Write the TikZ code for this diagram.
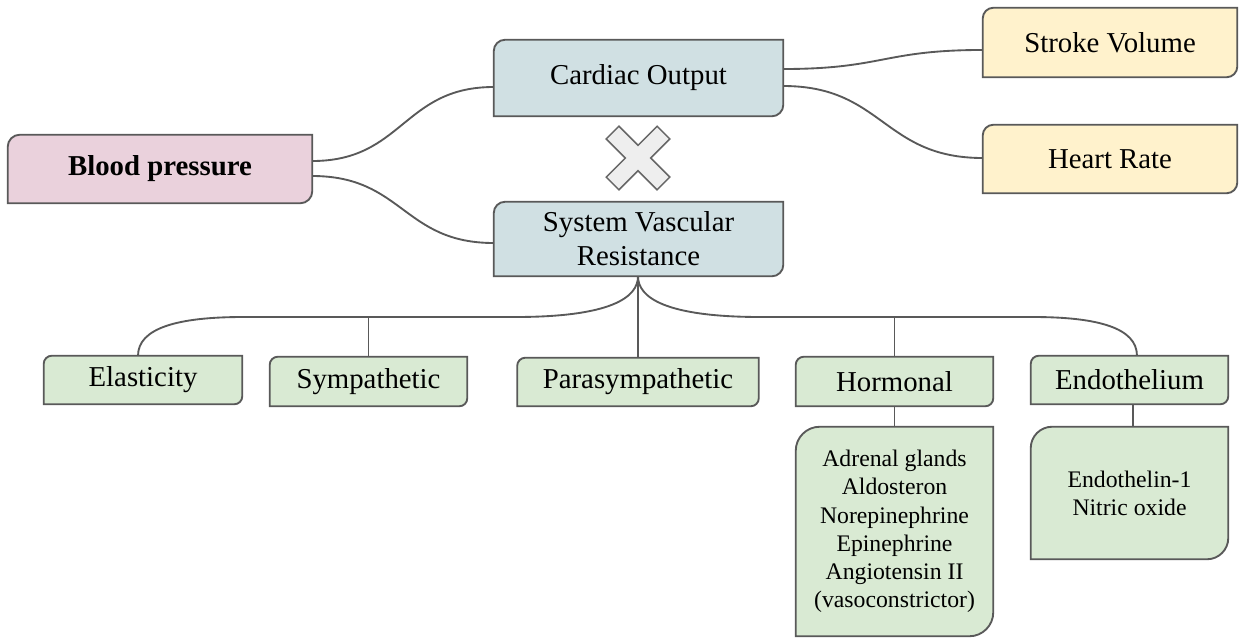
\documentclass[tikz,border=0pt]{standalone}
\usepackage{fontspec}
\setmainfont{Liberation Serif}
\usetikzlibrary{calc}
\pgfdeclarelayer{background}
\pgfsetlayers{background,main}
\definecolor{linegray}{HTML}{595959}
\definecolor{bpfill}{HTML}{EAD1DC}
\definecolor{cofill}{HTML}{D0E0E3}
\definecolor{yfill}{HTML}{FFF2CC}
\definecolor{gfill}{HTML}{D9EAD3}
\definecolor{xfill}{HTML}{EEEEEE}
\definecolor{xline}{HTML}{666666}
\newcommand\bigfont{\fontsize{21.6}{25.5}\selectfont}
\newcommand\smallfont{\fontsize{17.8}{21.2}\selectfont}
\tikzset{
  boxline/.style={draw=linegray, line width=1.4pt},
  conn/.style={draw=linegray, line width=1.4pt},
  lbl/.style={inner sep=0pt, align=center, font=\bigfont},
  smalllbl/.style={inner sep=0pt, align=center, font=\smallfont},
  bx/.style 2 args={minimum width={0.75*#1pt}, minimum height={0.75*#2pt}},
}
% #1 node name, #2 corner radius (pt), #3 fill colour
\newcommand\diagbox[3]{%
  \begin{pgfonlayer}{background}
  \draw[boxline, fill=#3] (#1.south west) -- ([yshift={-#2pt}]#1.north west)
    .. controls ([yshift={-0.448*#2pt}]#1.north west) and ([xshift={0.448*#2pt}]#1.north west) ..
    ([xshift={#2pt}]#1.north west) -- (#1.north east) -- ([yshift={#2pt}]#1.south east)
    .. controls ([yshift={0.448*#2pt}]#1.south east) and ([xshift={-0.448*#2pt}]#1.south east) ..
    ([xshift={-#2pt}]#1.south east) -- cycle;
  \end{pgfonlayer}}
\begin{document}
\begin{tikzpicture}[x=0.75pt, y=-0.75pt]
\useasboundingbox (0,0) rectangle (1244,637);

% nodes
\node[lbl, bx={304}{68}] (bp) at (160,169) {\textbf{Blood pressure}};
\node[lbl, bx={289}{76}] (co) at (638.5,78) {Cardiac Output};
\node[lbl, bx={289}{74}] (svr) at (638.5,239) {System Vascular\\Resistance};
\node[lbl, bx={254}{69}] (sv) at (1110,42.5) {Stroke Volume};
\node[lbl, bx={254}{68}] (hr) at (1110,159) {Heart Rate};
\node[lbl, bx={198}{48}] (elast) at (143,380) {Elasticity};
\node[lbl, bx={197}{49}] (symp) at (368.5,381.5) {Sympathetic};
\node[lbl, bx={241}{48}] (para) at (638,382) {Parasympathetic};
\node[lbl, bx={197}{49}] (horm) at (894.5,381.5) {Hormonal};
\node[lbl, bx={197}{48}] (endo) at (1129.5,380) {Endothelium};
\node[smalllbl, bx={197}{209}] (hormlist) at (894.5,531.5) {Adrenal glands\\Aldosteron\\Norepinephrine\\Epinephrine\\Angiotensin II\\(vasoconstrictor)};
\node[smalllbl, bx={197}{132}] (endolist) at (1129.5,493) {Endothelin-1\\Nitric oxide};

% box shapes
\diagbox{bp}{9}{bpfill}
\diagbox{co}{8.5}{cofill}
\diagbox{svr}{8.5}{cofill}
\diagbox{sv}{8}{yfill}
\diagbox{hr}{8}{yfill}
\diagbox{elast}{6}{gfill}
\diagbox{symp}{6}{gfill}
\diagbox{para}{6}{gfill}
\diagbox{horm}{6}{gfill}
\diagbox{endo}{6}{gfill}
\diagbox{hormlist}{18}{gfill}
\diagbox{endolist}{16}{gfill}

% multiplication mark
\begin{scope}[shift={(638,158)}, rotate=45]
  \draw[fill=xfill, draw=xline, line width=1.1pt]
    (36,9) -- (9,9) -- (9,36) -- (-9,36) -- (-9,9) -- (-36,9) -- (-36,-9) -- (-9,-9)
    -- (-9,-36) -- (9,-36) -- (9,-9) -- (36,-9) -- cycle;
\end{scope}

% connectors
\draw[conn] ([yshift=6pt]bp.east) .. controls (403,161) and (403,87) .. ([yshift=-6.75pt]co.west);
\draw[conn] ([yshift=-5.25pt]bp.east) .. controls (403,176) and (403,243) .. ([yshift=-3pt]svr.west);
\draw[conn] ([yshift=6.75pt]co.east) .. controls (883,69) and (883,50) .. ([yshift=-5.6pt]sv.west);
\draw[conn] ([yshift=-6pt]co.east) .. controls (883,86) and (883,158) .. ([yshift=0.75pt]hr.west);

\coordinate (bus) at (638,317);
\draw[conn] (para.north |- svr.south) .. controls (638,297) and (612,317) .. (515,317) -- (243,317)
  .. controls (178,317) and (138,328) .. ([xshift=-3.75pt]elast.north);
\draw[conn] (para.north |- svr.south) .. controls (638,297) and (664,317) .. (761,317) -- (1033,317)
  .. controls (1098,317) and (1137,328) .. ([xshift=5.6pt]endo.north);
\draw[conn] (para.north |- svr.south) -- (para.north);
\draw[conn] (symp.north) -- (symp.north |- bus);
\draw[conn] (horm.north) -- (horm.north |- bus);
\draw[conn] (horm.south) -- (hormlist.north);
\draw[conn] ([xshift=2.5pt]endo.south) -- ([xshift=2.5pt]endolist.north);
\end{tikzpicture}
\end{document}
